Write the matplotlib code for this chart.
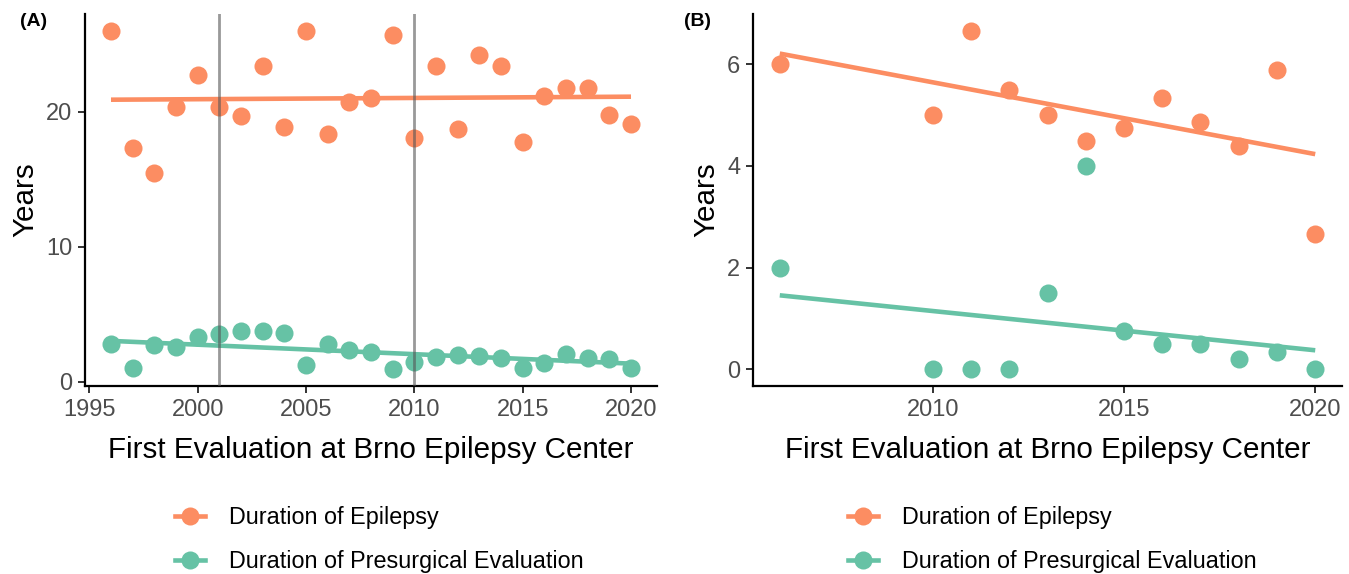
import numpy as np
import matplotlib
matplotlib.use("Agg")
import matplotlib.pyplot as plt
from matplotlib.lines import Line2D

plt.rcParams['font.family'] = ['Liberation Sans', 'DejaVu Sans']

# ---- Data: panel A ----
years_a = [1996, 1997, 1998, 1999, 2000, 2001, 2002, 2003, 2004, 2005, 2006, 2007, 2008,
           2009, 2010, 2011, 2012, 2013, 2014, 2015, 2016, 2017, 2018, 2019, 2020]
epilepsy_a = [26.0, 17.3, 15.5, 20.4, 22.7, 20.4, 19.7, 23.4, 18.9, 26.0, 18.4, 20.7, 21.0,
              25.7, 18.1, 23.4, 18.7, 24.2, 23.4, 17.8, 21.2, 21.8, 21.8, 19.8, 19.1]
presurg_a = [2.8, 1.05, 2.75, 2.6, 3.3, 3.55, 3.8, 3.75, 3.65, 1.25, 2.8, 2.4, 2.2,
             0.95, 1.5, 1.85, 2.0, 1.9, 1.75, 1.0, 1.4, 2.1, 1.8, 1.7, 1.05]
vlines_a = [2001, 2010]

# ---- Data: panel B ----
years_b = [2006, 2010, 2011, 2012, 2013, 2014, 2015, 2016, 2017, 2018, 2019, 2020]
epilepsy_b = [6.0, 5.0, 6.66, 5.5, 5.0, 4.5, 4.75, 5.33, 4.86, 4.4, 5.89, 2.67]
presurg_b = [2.0, 0.0, 0.0, 0.0, 1.5, 4.0, 0.75, 0.5, 0.5, 0.2, 0.33, 0.0]

series_labels = ["Duration of Epilepsy", "Duration of Presurgical Evaluation"]
colors = ["#FC8D62", "#66C2A5"]

xticks_a = [1995, 2000, 2005, 2010, 2015, 2020]
yticks_a = [0, 10, 20]
xticks_b = [2010, 2015, 2020]
yticks_b = [0, 2, 4, 6]

xlabel = "First Evaluation at Brno Epilepsy Center"
ylabel = "Years"

fig = plt.figure(figsize=(13.49, 5.74), dpi=100)
ax_a = fig.add_axes([85/1349, 1-386/574, 572/1349, 372/574])
ax_b = fig.add_axes([753/1349, 1-386/574, 589/1349, 372/574])

def expand(lo, hi, f=0.05):
    r = hi - lo
    return lo - f*r, hi + f*r

def draw(ax, xs, ys_list, xticks, yticks):
    xs = np.asarray(xs, float)
    for ys, c in zip(ys_list, colors):
        ys = np.asarray(ys, float)
        k, b = np.polyfit(xs, ys, 1)
        xl = np.array([xs.min(), xs.max()])
        ax.plot(xl, k*xl + b, color=c, lw=3.3, solid_capstyle='butt', zorder=2)
        ax.plot(xs, ys, 'o', color=c, ms=13, mec='none', zorder=3)
    ax.set_xlim(*expand(xs.min(), xs.max()))
    allv = np.concatenate([np.asarray(v, float) for v in ys_list])
    ax.set_ylim(*expand(allv.min(), allv.max()))
    ax.set_xticks(xticks)
    ax.set_yticks(yticks)
    for s in ['top', 'right']:
        ax.spines[s].set_visible(False)
    for s in ['left', 'bottom']:
        ax.spines[s].set_linewidth(1.6)
        ax.spines[s].set_color('black')
    ax.tick_params(axis='both', length=5, width=1.4, color='#333333',
                   labelcolor='#4D4D4D', labelsize=17, pad=4)
    ax.set_xlabel(xlabel, fontsize=21.3, labelpad=11, color='black')
    ax.set_ylabel(ylabel, fontsize=21.3, labelpad=5, color='black')

draw(ax_a, years_a, [epilepsy_a, presurg_a], xticks_a, yticks_a)
for v in vlines_a:
    ax_a.axvline(v, color='#555555', alpha=0.6, lw=2, zorder=4)
draw(ax_b, years_b, [epilepsy_b, presurg_b], xticks_b, yticks_b)

fig.text(20/1349, 1-22/574, "(A)", fontsize=14, fontweight='bold', ha='left', va='center')
fig.text(684/1349, 1-22/574, "(B)", fontsize=14, fontweight='bold', ha='left', va='center')

handles = [Line2D([0], [0], color=c, lw=3.3, marker='o', ms=13, mec='none') for c in colors]
for x0 in [175/1349, 848/1349]:
    fig.legend(handles, series_labels, loc='upper left', bbox_to_anchor=(x0, 1-506/574),
               frameon=False, fontsize=16.8, handlelength=1.3, handletextpad=1.0,
               labelspacing=0.92, borderaxespad=0, borderpad=0)

fig.savefig("out.png", dpi=100, facecolor='white')
